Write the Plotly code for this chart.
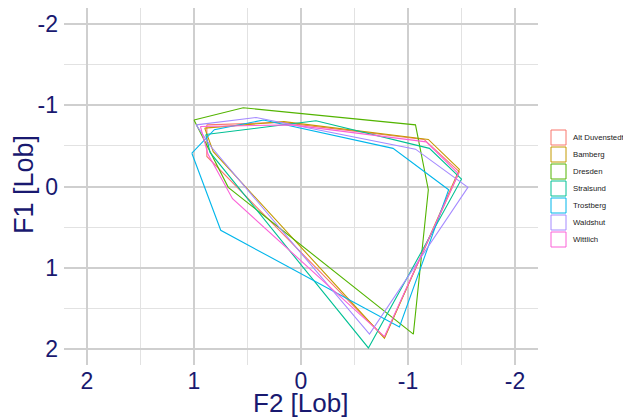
import plotly.graph_objects as go

cities = ["Alt Duvenstedt", "Bamberg", "Dresden", "Stralsund", "Trostberg", "Waldshut", "Wittlich"]
colors = ["#F8766D", "#C49A00", "#53B400", "#00C094", "#00B6EB", "#A58AFF", "#FB61D7"]

# F2 (x) and F1 (y) vertices of each vowel polygon, in Lobanov units
f2_alt = [0.88, 0.19, -1.15, -1.48, -0.78, 0.88]
f1_alt = [-0.76, -0.79, -0.58, -0.18, 1.86, -0.37]
f2_bam = [0.90, 0.16, -1.19, -1.48, -0.78, 0.82]
f1_bam = [-0.72, -0.80, -0.58, -0.21, 1.87, -0.43]
f2_dre = [1.00, 0.54, -1.07, -1.19, -1.05, 0.68]
f1_dre = [-0.82, -0.97, -0.76, 0.04, 1.82, 0.01]
f2_str = [0.89, -0.14, -1.20, -1.50, -0.63, 0.85]
f1_str = [-0.64, -0.81, -0.47, -0.09, 1.99, -0.42]
f2_tro = [1.02, 0.81, 0.35, -0.86, -1.38, -0.92, 0.75]
f1_tro = [-0.41, -0.70, -0.82, -0.47, 0.04, 1.73, 0.54]
f2_wal = [0.98, 0.42, -1.07, -1.56, -0.64, 0.84]
f1_wal = [-0.76, -0.85, -0.46, 0.01, 1.82, -0.49]
f2_wit = [0.94, 0.09, -1.17, -1.47, -0.78, 0.64, 0.87]
f1_wit = [-0.74, -0.76, -0.55, -0.16, 1.85, 0.15, -0.40]

f2_all = [f2_alt, f2_bam, f2_dre, f2_str, f2_tro, f2_wal, f2_wit]
f1_all = [f1_alt, f1_bam, f1_dre, f1_str, f1_tro, f1_wal, f1_wit]

tick_vals = [-2, -1, 0, 1, 2]
tick_text = ["-2", "-1", "0", "1", "2"]

# page body has an 8px margin, so the figure is drawn 8px in from the top-left
W, H = 623, 411
ML, MR, MT, MB = 56, 93, 0, 54
PW, PH = W - ML - MR, H - MT - MB


def px(x):
    return (x - ML) / PW


def py(y):
    return (H - MB - y) / PH


fig = go.Figure()
for name, col, xs, ys in zip(cities, colors, f2_all, f1_all):
    fig.add_trace(go.Scatter(
        x=xs + [xs[0]], y=ys + [ys[0]], mode="lines", name=name,
        line=dict(color=col, width=1.1), showlegend=False, hoverinfo="skip"))

navy = "#191970"
shapes, annotations = [], []
# ggplot-style legend keys (outlined boxes) with real text labels
for i, (name, col) in enumerate(zip(cities, colors)):
    top = 122 + 17 * i
    shapes.append(dict(type="rect", xref="paper", yref="paper",
                       x0=px(543), x1=px(558), y0=py(top + 15), y1=py(top),
                       line=dict(color=col, width=1), fillcolor="white", layer="above"))
    annotations.append(dict(xref="paper", yref="paper", x=px(563), y=py(top + 7.5),
                            text=name, showarrow=False, xanchor="left", yanchor="middle",
                            font=dict(family="Liberation Sans", size=7.8, color="#1a1a1a")))

# axis titles
annotations.append(dict(xref="paper", yref="paper", x=px(292), y=py(395), text="F2 [Lob]",
                        showarrow=False, xanchor="center", yanchor="middle",
                        font=dict(family="Liberation Sans", size=26, color=navy)))
annotations.append(dict(xref="paper", yref="paper", x=px(16), y=py(177), text="F1 [Lob]",
                        showarrow=False, xanchor="center", yanchor="middle", textangle=-90,
                        font=dict(family="Liberation Sans", size=27, color=navy)))

grid_major = "#cfcfcf"
grid_minor = "#e2e2e2"
axis_common = dict(
    tickvals=tick_vals, ticktext=tick_text,
    showgrid=True, gridcolor=grid_major, gridwidth=1.6,
    minor=dict(dtick=0.5, showgrid=True, gridcolor=grid_minor, gridwidth=1),
    zeroline=False, showline=False, ticks="", automargin=False,
    tickfont=dict(family="Liberation Sans", size=23, color=navy),
)
fig.update_xaxes(range=[2.215, -2.215], ticklabelstandoff=0, **axis_common)
fig.update_yaxes(range=[2.2, -2.2], ticklabelstandoff=5, **axis_common)

fig.update_layout(
    width=W, height=H,
    margin=dict(l=ML, r=MR, t=MT, b=MB),
    paper_bgcolor="white", plot_bgcolor="white",
    showlegend=False,
    shapes=shapes, annotations=annotations,
)
fig.write_html("out.html")
